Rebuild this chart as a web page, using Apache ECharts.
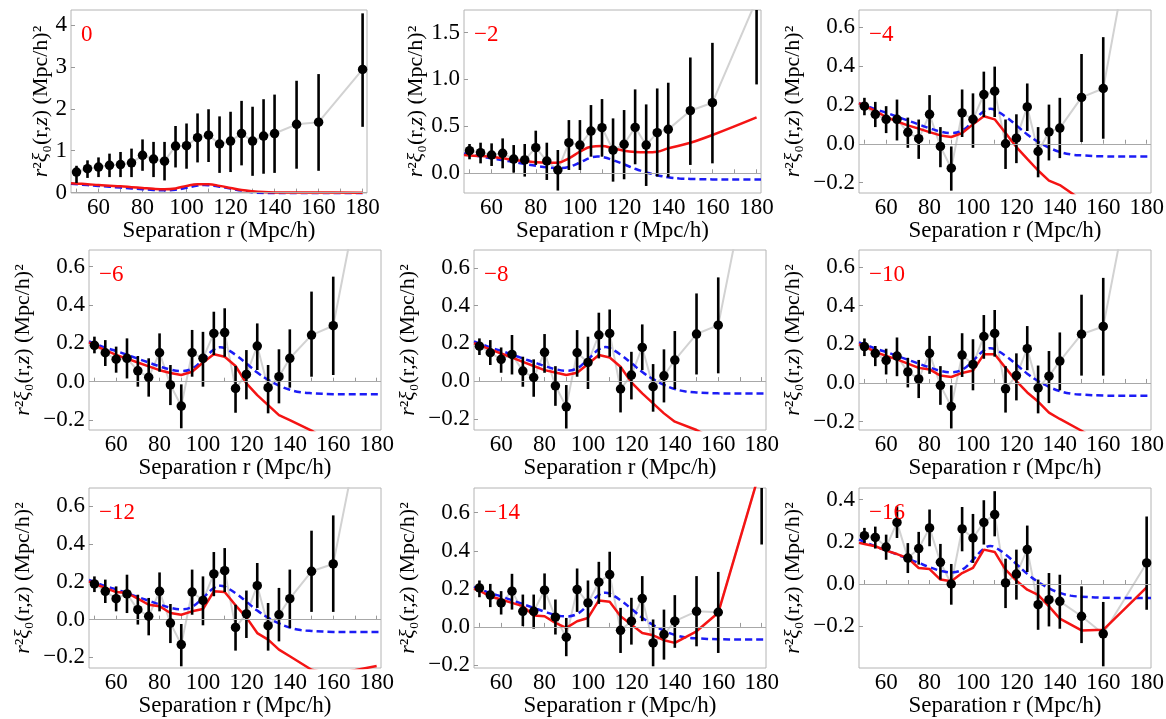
<!DOCTYPE html>
<html><head><meta charset="utf-8">
<script src="https://cdn.jsdelivr.net/npm/echarts@6/dist/echarts.min.js"></script>
<style>html,body{margin:0;padding:0;background:#fff}#c{width:1166px;height:719px}</style>
</head><body><div id="c"></div><script>
// ---------- data ----------
const dataR  = [50,55,60,65,70,75,80,85,90,95,100,105,110,115,120,125,130,135,140,150,160,180];
const modelR = [47.5,50,55,60,65,70,75,80,85,90,95,100,105,110,115,120,125,130,135,140,150,160,180];
const blueR  = [47.5,55,60,65,70,75,80,85,90,95,100,105,108,110,115,120,125,130,135,140,145,150,160,170,182];
const blueModel = [0.21,0.178,0.16,0.14,0.12,0.10,0.08,0.063,0.055,0.068,0.115,0.168,0.18,0.175,0.14,0.095,0.048,0.01,-0.02,-0.042,-0.055,-0.06,-0.065,-0.066,-0.066];
const xTickLabels = [60,80,100,120,140,160,180];
const xTickMarks = [50,60,70,80,90,100,110,120,130,140,150,160,170,180];
const panelLabels = ['0','\u22122','\u22124','\u22126','\u22128','\u221210','\u221212','\u221214','\u221216'];
const yTicks0 = [0,1,2,3,4];
const yTicks2 = [0,0.5,1.0,1.5];
const yTicksMid = [-0.2,0,0.2,0.4,0.6];
const yTicks16 = [-0.4,-0.2,0,0.2,0.4];

const p0Val = [0.49,0.57,0.61,0.65,0.67,0.71,0.89,0.80,0.75,1.11,1.12,1.31,1.37,1.16,1.23,1.41,1.23,1.35,1.41,1.63,1.68,2.94];
const p0Lo  = [0.23,0.35,0.37,0.37,0.37,0.37,0.52,0.37,0.29,0.60,0.57,0.72,0.73,0.47,0.49,0.65,0.40,0.45,0.47,0.57,0.52,1.57];
const p0Hi  = [0.64,0.77,0.84,0.93,0.97,1.05,1.27,1.21,1.21,1.59,1.65,1.89,1.99,1.82,1.93,2.19,2.05,2.23,2.34,2.67,2.83,4.28];
const p0Red = [0.225,0.215,0.2,0.18,0.165,0.15,0.13,0.11,0.09,0.08,0.1,0.16,0.2,0.2,0.16,0.11,0.06,0.03,0.012,0.004,0.0,0.0,-0.005];

const p2Val = [0.241,0.22,0.195,0.213,0.152,0.142,0.273,0.131,0.035,0.326,0.301,0.45,0.486,0.248,0.309,0.489,0.301,0.433,0.468,0.667,0.752,1.85];
const p2Lo  = [0.149,0.106,0.078,0.053,0.007,-0.035,0.089,-0.071,-0.184,0.035,0.035,0.177,0.177,-0.089,-0.064,0.096,-0.135,-0.035,-0.043,0.089,0.106,0.947];
const p2Hi  = [0.312,0.326,0.319,0.372,0.301,0.312,0.454,0.326,0.248,0.567,0.567,0.727,0.791,0.585,0.674,0.894,0.734,0.904,0.965,1.234,1.39,2.75];
const p2Red = [0.195,0.19,0.183,0.177,0.16,0.142,0.13,0.117,0.112,0.113,0.16,0.23,0.284,0.291,0.266,0.241,0.227,0.223,0.23,0.266,0.326,0.408,0.596];

const p4Val = [0.194,0.152,0.126,0.126,0.059,0.026,0.152,-0.014,-0.126,0.159,0.126,0.254,0.271,0.0,0.029,0.19,-0.04,0.061,0.081,0.239,0.285,1.5];
const p4Lo  = [0.147,0.086,0.055,0.017,-0.021,-0.078,0.052,-0.121,-0.242,0.035,-0.021,0.138,0.138,-0.13,-0.1,0.066,-0.173,-0.086,-0.074,0.009,0.026,0.9];
const p4Hi  = [0.237,0.216,0.194,0.228,0.135,0.125,0.251,0.086,-0.014,0.28,0.26,0.372,0.398,0.125,0.152,0.311,0.086,0.202,0.237,0.463,0.55,2.1];
const p4Red = [0.21,0.195,0.17,0.138,0.115,0.095,0.078,0.06,0.043,0.035,0.055,0.1,0.142,0.126,0.055,-0.017,-0.078,-0.138,-0.19,-0.213,-0.29,-0.33,-0.3];

const p6Val = [0.19,0.151,0.117,0.122,0.057,0.023,0.151,-0.017,-0.127,0.151,0.122,0.252,0.256,-0.035,0.038,0.186,-0.031,0.026,0.122,0.243,0.292,1.45];
const p6Lo  = [0.148,0.082,0.047,0.017,-0.026,-0.078,0.052,-0.122,-0.243,0.026,-0.026,0.139,0.13,-0.162,-0.092,0.061,-0.165,-0.113,-0.031,0.026,0.035,0.9];
const p6Hi  = [0.235,0.217,0.183,0.226,0.134,0.122,0.252,0.087,-0.014,0.27,0.26,0.365,0.383,0.082,0.165,0.304,0.087,0.169,0.273,0.47,0.548,2.0];
const p6Red = [0.205,0.19,0.165,0.14,0.12,0.1,0.08,0.06,0.045,0.035,0.052,0.1,0.143,0.13,0.082,-0.009,-0.07,-0.122,-0.174,-0.2,-0.255,-0.32,-0.3];

const p8Val = [0.185,0.15,0.115,0.141,0.053,0.019,0.152,-0.025,-0.136,0.15,0.099,0.244,0.252,-0.042,0.032,0.178,-0.03,0.028,0.111,0.249,0.296,1.45];
const p8Lo  = [0.138,0.085,0.044,0.035,-0.03,-0.083,0.044,-0.131,-0.251,0.023,-0.042,0.12,0.129,-0.166,-0.097,0.058,-0.162,-0.113,-0.042,0.035,0.041,0.9];
const p8Hi  = [0.226,0.217,0.178,0.244,0.129,0.115,0.249,0.079,-0.021,0.27,0.235,0.362,0.379,0.076,0.155,0.3,0.09,0.168,0.265,0.464,0.549,2.0];
const p8Red = [0.2,0.19,0.168,0.146,0.125,0.102,0.08,0.058,0.045,0.032,0.044,0.09,0.138,0.125,0.076,-0.007,-0.065,-0.118,-0.171,-0.215,-0.259,-0.32,-0.3];

const p10Val = [0.188,0.153,0.117,0.139,0.057,0.021,0.153,-0.012,-0.122,0.144,0.096,0.24,0.256,-0.03,0.038,0.177,-0.026,0.035,0.113,0.252,0.292,1.45];
const p10Lo  = [0.139,0.087,0.044,0.035,-0.023,-0.078,0.047,-0.113,-0.235,0.031,-0.038,0.125,0.136,-0.153,-0.09,0.066,-0.157,-0.104,-0.038,0.038,0.038,0.9];
const p10Hi  = [0.23,0.191,0.177,0.235,0.13,0.119,0.243,0.087,-0.012,0.257,0.226,0.351,0.377,0.087,0.153,0.294,0.09,0.165,0.261,0.456,0.543,2.0];
const p10Red = [0.2,0.19,0.16,0.14,0.122,0.1,0.078,0.07,0.038,0.031,0.052,0.064,0.148,0.148,0.078,0.009,-0.049,-0.096,-0.153,-0.186,-0.247,-0.31,-0.3];

const p12Val = [0.189,0.15,0.111,0.136,0.053,0.018,0.15,-0.018,-0.132,0.146,0.102,0.242,0.259,-0.041,0.03,0.18,-0.032,0.026,0.111,0.256,0.295,1.45];
const p12Lo  = [0.146,0.088,0.044,0.035,-0.026,-0.083,0.044,-0.124,-0.247,0.026,-0.03,0.124,0.146,-0.164,-0.097,0.062,-0.164,-0.115,-0.044,0.041,0.041,0.9];
const p12Hi  = [0.229,0.212,0.176,0.238,0.132,0.115,0.25,0.083,-0.023,0.265,0.229,0.358,0.379,0.079,0.154,0.3,0.088,0.168,0.265,0.471,0.552,2.0];
const p12Red = [0.203,0.19,0.168,0.146,0.141,0.111,0.079,0.071,0.035,0.026,0.044,0.056,0.15,0.146,0.076,0.012,-0.071,-0.106,-0.159,-0.194,-0.265,-0.29,-0.245];

const p14Val = [0.205,0.167,0.126,0.188,0.082,0.082,0.193,0.051,-0.054,0.196,0.126,0.235,0.275,-0.018,0.03,0.149,-0.084,-0.04,0.03,0.082,0.077,0.85];
const p14Lo  = [0.156,0.104,0.065,0.091,0.004,-0.009,0.091,-0.04,-0.154,0.079,-0.002,0.121,0.156,-0.137,-0.093,0.03,-0.207,-0.172,-0.11,-0.102,-0.137,0.433];
const p14Hi  = [0.244,0.226,0.188,0.279,0.17,0.17,0.281,0.144,0.047,0.307,0.244,0.342,0.395,0.1,0.153,0.267,0.039,0.091,0.167,0.267,0.289,1.27];
const p14Red = [0.2,0.19,0.161,0.144,0.126,0.109,0.06,0.056,0.021,-0.005,0.03,0.047,0.139,0.132,0.056,0.012,-0.032,-0.044,-0.07,-0.084,-0.023,0.074,0.85];

const p16Val = [0.229,0.221,0.175,0.292,0.123,0.168,0.266,0.103,0.0,0.261,0.218,0.292,0.329,0.005,0.047,0.163,-0.098,-0.074,-0.082,-0.153,-0.236,0.1];
const p16Lo  = [0.194,0.168,0.115,0.218,0.052,0.092,0.179,0.021,-0.098,0.155,0.1,0.187,0.226,-0.114,-0.074,0.057,-0.217,-0.201,-0.212,-0.28,-0.39,-0.122];
const p16Hi  = [0.266,0.272,0.234,0.368,0.194,0.247,0.353,0.19,0.095,0.365,0.332,0.397,0.44,0.12,0.163,0.277,0.021,0.052,0.044,-0.011,-0.085,0.32];
const p16Red = [0.195,0.19,0.179,0.158,0.142,0.123,0.076,0.071,0.021,0.013,0.052,0.076,0.163,0.152,0.068,0.016,-0.027,-0.051,-0.106,-0.164,-0.22,-0.217,-0.016];

// ---------- layout ----------
const layout = [
  {left:71,  top:10,  width:296, height:183, yMin:-0.01,  yMax:4.36,  nameGap:19, dec:0, smooth:true},
  {left:464, top:10,  width:297, height:183, yMin:-0.21,  yMax:1.74,  nameGap:37, dec:1, smooth:true},
  {left:859, top:10,  width:292, height:183, yMin:-0.254, yMax:0.69,  nameGap:55, dec:1, smooth:false},
  {left:89,  top:250, width:292, height:180, yMin:-0.252, yMax:0.687, nameGap:55, dec:1, smooth:false},
  {left:474, top:250, width:292, height:180, yMin:-0.259, yMax:0.694, nameGap:55, dec:1, smooth:false},
  {left:859, top:250, width:292, height:180, yMin:-0.243, yMax:0.687, nameGap:55, dec:1, smooth:false},
  {left:89,  top:488, width:292, height:180, yMin:-0.256, yMax:0.697, nameGap:55, dec:1, smooth:false},
  {left:474, top:488, width:292, height:180, yMin:-0.216, yMax:0.73,  nameGap:55, dec:1, smooth:false},
  {left:859, top:488, width:292, height:180, yMin:-0.398, yMax:0.455, nameGap:55, dec:1, smooth:false}
];
const panelData = [
  [p0Val,p0Lo,p0Hi,p0Red,yTicks0],
  [p2Val,p2Lo,p2Hi,p2Red,yTicks2],
  [p4Val,p4Lo,p4Hi,p4Red,yTicksMid],
  [p6Val,p6Lo,p6Hi,p6Red,yTicksMid],
  [p8Val,p8Lo,p8Hi,p8Red,yTicksMid],
  [p10Val,p10Lo,p10Hi,p10Red,yTicksMid],
  [p12Val,p12Lo,p12Hi,p12Red,yTicksMid],
  [p14Val,p14Lo,p14Hi,p14Red,yTicksMid],
  [p16Val,p16Lo,p16Hi,p16Red,yTicks16]
];

const FONT = 'Liberation Serif';
const zip = (a,b) => a.map((v,i)=>[v,b[i]]);

const grids=[], xAxes=[], yAxes=[], series=[], titles=[];
layout.forEach((L, k) => {
  const [val, lo, hi, red, yt] = panelData[k];
  grids.push({left:L.left, top:L.top, width:L.width, height:L.height, show:true,
    borderColor:'#b4b4b4', borderWidth:1, backgroundColor:'transparent', containLabel:false, outerBoundsMode:'none'});
  xAxes.push({type:'value', gridIndex:k, min:47.5, max:182,
    name:'Separation r (Mpc/h)', nameLocation:'middle', nameGap:26,
    nameTextStyle:{fontFamily:FONT, fontSize:23, color:'#000'},
    axisLine:{show:false}, splitLine:{show:false},
    axisTick:{show:true, inside:true, length:4, customValues:xTickMarks, lineStyle:{color:'#999'}},
    axisLabel:{customValues:xTickLabels, fontFamily:FONT, fontSize:23, color:'#000', margin:3}
  });
  yAxes.push({type:'value', gridIndex:k, min:L.yMin, max:L.yMax,
    name:'{i|r}\u00B2{i|\u03BE}\u2080(r,{i|z}) (Mpc/h)\u00B2', nameLocation:'middle', nameRotate:90,
    nameGap:L.nameGap, nameMoveOverlap:false,
    nameTextStyle:{fontFamily:FONT, fontSize:22, color:'#000',
      rich:{i:{fontFamily:FONT, fontSize:22, fontStyle:'italic', color:'#000'}}},
    axisLine:{show:false}, splitLine:{show:false},
    axisTick:{show:true, inside:true, length:4, customValues:yt, lineStyle:{color:'#999'}},
    axisLabel:{customValues:yt, fontFamily:FONT, fontSize:23, color:'#000', margin:4,
      formatter:v => (L.dec ? Number(v).toFixed(L.dec) : String(Math.round(v))).replace('-', '\u2212')}
  });
  titles.push({text:panelLabels[k], left:L.left+5, top:L.top+8,
    textStyle:{fontFamily:FONT, fontSize:23, fontWeight:'normal', color:'#ff0000'}});

  series.push({type:'line', xAxisIndex:k, yAxisIndex:k, data:zip(dataR,val), showSymbol:false, silent:true,
    lineStyle:{color:'#d2d2d2', width:2}, z:1, clip:true,
    markLine:{silent:true, symbol:'none', label:{show:false}, lineStyle:{color:'#a8a8a8', width:1, type:'solid'},
      data:[{yAxis:0}]}});
  series.push({type:'line', xAxisIndex:k, yAxisIndex:k, data:zip(blueR,blueModel), showSymbol:false, silent:true,
    smooth:0.4, lineStyle:{color:'#1c1cf5', width:2.5, type:[7,4]}, z:2, clip:true});
  series.push({type:'line', xAxisIndex:k, yAxisIndex:k, data:zip(modelR,red), showSymbol:false, silent:true,
    smooth:L.smooth ? 0.4 : false, lineStyle:{color:'#f41414', width:2.5}, z:3, clip:true});
  series.push({type:'custom', xAxisIndex:k, yAxisIndex:k, silent:true, z:4,
    data:dataR.map((r,i)=>[r, lo[i], hi[i]]),
    encode:{x:0, y:[1,2]},
    renderItem:(params, api) => {
      const cs = params.coordSys;
      const p1 = api.coord([api.value(0), api.value(1)]);
      const p2 = api.coord([api.value(0), api.value(2)]);
      const top = cs.y, bot = cs.y + cs.height;
      const y1 = Math.min(Math.max(p1[1], top), bot);
      const y2 = Math.min(Math.max(p2[1], top), bot);
      if (Math.abs(y1 - y2) < 0.5) return null;
      return {type:'line', shape:{x1:p1[0], y1:y1, x2:p1[0], y2:y2}, style:{stroke:'#000', lineWidth:2.6}};
    }});
  series.push({type:'scatter', xAxisIndex:k, yAxisIndex:k, data:zip(dataR,val), symbol:'circle', symbolSize:9.5,
    itemStyle:{color:'#000', opacity:1}, silent:true, z:5, clip:true});
});

const chart = echarts.init(document.getElementById('c'), null, {renderer:'canvas'});
chart.setOption({animation:false, backgroundColor:'#fff', title:titles, grid:grids, xAxis:xAxes, yAxis:yAxes, series:series});
</script></body></html>
